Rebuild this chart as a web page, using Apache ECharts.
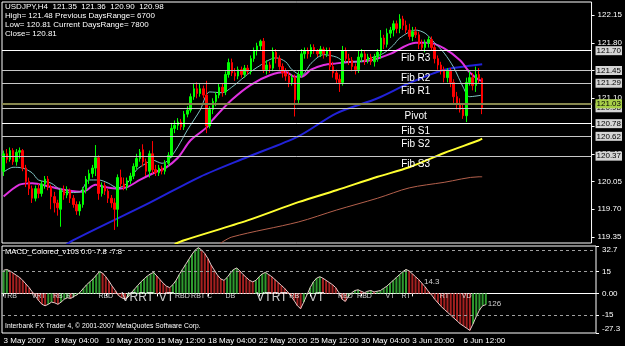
<!DOCTYPE html>
<html><head><meta charset="utf-8">
<script src="https://cdn.jsdelivr.net/npm/echarts@6/dist/echarts.min.js"></script>
<style>html,body{margin:0;padding:0;background:#000;}#c{width:625px;height:346px;}</style>
</head><body><div id="c"></div>
<script>
// ---------- data ----------
const slotCount = 186; // 152 bars + empty shift area on the right
const dateLabels = ['3 May 2007','8 May 04:00','10 May 20:00','15 May 12:00','18 May 04:00','22 May 20:00','25 May 12:00','30 May 04:00','3 Jun 20:00','6 Jun 12:00'];
const priceTicks = [119.35,119.70,120.05,120.40,120.75,121.10,121.45,121.80,122.15];
const macdTicks = [-27.3,-15,0,15,32.7];
const macdLevels = [30,15,-15];
// [open, close, low, high]
const candles = [
[120.18,120.40,120.12,120.44],[120.40,120.33,120.28,120.46],[120.33,120.44,120.30,120.48],[120.44,120.30,120.26,120.47],
[120.30,120.42,120.25,120.46],[120.42,120.44,120.34,120.48],[120.44,120.22,120.18,120.46],[120.22,120.05,119.98,120.26],
[120.05,119.96,119.88,120.10],[119.96,119.84,119.78,120.00],[119.84,119.96,119.80,120.00],[119.96,119.90,119.84,120.02],
[119.90,120.02,119.86,120.06],[120.02,120.08,119.96,120.12],[120.08,119.98,119.94,120.12],[119.98,119.86,119.70,120.01],
[119.86,119.78,119.66,119.92],[119.78,119.72,119.62,119.82],[119.70,119.94,119.48,119.97],[119.94,119.88,119.82,120.00],
[119.88,119.94,119.84,119.99],[119.94,119.84,119.78,119.96],[119.84,119.76,119.72,119.88],[119.76,119.68,119.63,119.80],
[119.68,119.76,119.62,119.80],[119.76,119.95,119.72,119.98],[119.95,120.08,119.90,120.12],[120.08,120.15,120.02,120.20],
[120.15,120.22,120.10,120.26],[120.22,120.35,120.12,120.51],[120.35,119.90,119.82,120.38],[119.90,120.00,119.86,120.04],
[120.00,119.93,119.88,120.04],[119.93,119.84,119.78,119.96],[119.84,119.78,119.72,119.88],[119.78,119.70,119.44,119.84],
[119.70,120.10,119.48,120.14],[120.10,120.02,119.98,120.20],[120.02,119.98,119.94,120.10],[119.98,120.06,119.94,120.10],
[120.06,120.12,120.02,120.16],[120.12,120.24,120.08,120.28],[120.24,120.34,120.20,120.40],[120.34,120.42,120.30,120.46],
[120.45,120.30,120.24,120.52],[120.30,120.18,120.12,120.34],[120.18,120.40,120.10,120.44],[120.40,120.20,120.15,120.56],
[120.20,120.16,120.12,120.26],[120.16,120.22,120.12,120.26],[120.22,120.18,120.14,120.25],[120.18,120.28,120.14,120.32],
[120.28,120.38,120.24,120.42],[120.38,120.72,120.35,120.79],[120.72,120.76,120.66,120.82],[120.76,120.80,120.70,120.85],
[120.80,120.74,120.70,120.84],[120.74,120.90,120.70,120.94],[120.90,120.95,120.86,121.00],[120.95,121.12,120.92,121.16],
[121.12,121.22,121.08,121.28],[121.22,121.16,121.10,121.30],[121.16,121.22,121.12,121.28],[121.22,121.14,121.10,121.26],
[121.14,120.75,120.66,121.32],[120.75,120.96,120.72,121.00],[120.96,121.06,120.90,121.10],[121.06,121.14,121.00,121.18],
[121.14,121.24,121.10,121.29],[121.24,121.18,121.12,121.28],[121.18,121.40,121.14,121.44],[121.40,121.55,121.36,121.60],
[121.55,121.42,121.38,121.60],[121.42,121.38,121.32,121.48],[121.38,121.46,121.34,121.50],[121.46,121.40,121.36,121.50],
[121.40,121.48,121.36,121.52],[121.48,121.44,121.40,121.52],[121.44,121.60,121.40,121.64],[121.60,121.70,121.56,121.74],
[121.70,121.76,121.64,121.80],[121.76,121.82,121.70,121.84],[121.82,121.46,121.42,121.86],[121.46,121.52,121.40,121.58],
[121.52,121.48,121.42,121.56],[121.48,121.68,121.44,121.74],[121.68,121.60,121.54,121.72],[121.60,121.50,121.46,121.64],
[121.50,121.42,121.36,121.54],[121.42,121.38,121.32,121.48],[121.38,121.30,121.24,121.44],[121.30,121.36,121.26,121.40],
[121.36,121.08,120.87,121.40],[121.08,121.40,121.02,121.44],[121.40,121.66,121.36,121.72],[121.66,121.70,121.60,121.74],
[121.70,121.66,121.60,121.74],[121.66,121.74,121.62,121.78],[121.74,121.70,121.66,121.78],[121.70,121.66,121.62,121.72],
[121.66,121.72,121.62,121.76],[121.72,121.66,121.60,121.75],[121.66,121.70,121.62,121.74],[121.70,121.50,121.45,121.74],
[121.50,121.42,121.36,121.56],[121.42,121.34,121.28,121.46],[121.34,121.30,121.18,121.40],[121.30,121.70,121.26,121.76],
[121.70,121.60,121.56,121.74],[121.60,121.58,121.52,121.66],[121.58,121.50,121.44,121.62],[121.50,121.46,121.40,121.54],
[121.46,121.62,121.42,121.70],[121.62,121.66,121.56,121.72],[121.66,121.58,121.52,121.70],[121.58,121.62,121.54,121.66],
[121.62,121.56,121.52,121.66],[121.56,121.62,121.50,121.66],[121.62,121.68,121.56,121.72],[121.68,121.86,121.60,121.96],
[121.86,121.78,121.72,121.90],[121.78,121.92,121.74,121.98],[121.92,121.96,121.86,122.00],[121.96,122.04,121.88,122.08],
[122.04,121.98,121.92,122.08],[121.98,122.10,121.92,122.16],[122.10,122.02,121.96,122.14],[122.02,121.96,121.92,122.08],
[121.96,121.88,121.84,122.04],[121.88,121.94,121.82,122.00],[121.94,121.90,121.86,122.00],[121.90,121.78,121.72,121.94],
[121.78,121.74,121.70,121.84],[121.74,121.80,121.68,121.84],[121.80,121.84,121.74,121.88],[121.84,121.74,121.70,121.88],
[121.74,121.60,121.54,121.78],[121.60,121.52,121.46,121.64],[121.52,121.46,121.40,121.56],[121.46,121.36,121.30,121.50],
[121.36,121.44,121.30,121.48],[121.44,121.30,121.24,121.48],[121.30,121.12,121.04,121.34],[121.12,121.02,120.96,121.18],
[121.02,120.96,120.92,121.10],[120.96,120.88,120.84,121.04],[120.88,121.30,120.80,121.36],[121.30,121.36,121.26,121.44],
[121.36,121.26,121.20,121.42],[121.26,121.40,121.18,121.50],[121.40,121.35,121.28,121.48],[121.35,120.98,120.90,121.36]
];
// moving averages: [bar index, price]
const maFast = [[0,120.17],[3,120.23],[6,120.22],[9,120.16],[11,120.07],[15,120.03],[18,119.94],[20,119.91],[24,119.92],[27,120.07],[30,120.07],[33,120.03],[36,119.97],[39,120.03],[42,120.20],[45,120.28],[47,120.32],[50,120.28],[52,120.32],[55,120.49],[58,120.70],[62,120.95],[65,121.18],[69,121.17],[72,121.24],[76,121.37],[80,121.49],[86,121.61],[89,121.56],[91,121.46],[94,121.39],[97,121.54],[101,121.65],[105,121.62],[108,121.56],[112,121.56],[116,121.61],[120,121.67],[123,121.77],[125,121.86],[130,121.96],[133,121.92],[136,121.80],[139,121.67],[142,121.49],[145,121.24],[147,121.12],[151,121.14]];
const maMid = [[0,119.86],[5,120.01],[9,120.03],[15,119.98],[20,119.94],[25,119.92],[29,120.01],[32,119.98],[36,119.96],[39,119.98],[43,120.07],[48,120.17],[51,120.22],[55,120.35],[59,120.57],[64,120.73],[66,120.83],[72,121.08],[78,121.27],[84,121.39],[89,121.43],[92,121.37],[94,121.37],[97,121.46],[101,121.52],[105,121.54],[110,121.56],[116,121.58],[122,121.66],[130,121.80],[134,121.80],[139,121.73],[144,121.58],[147,121.43],[150,121.33],[151,121.32]];
const maBlue = [[18,119.20],[22,119.31],[46,119.78],[62,120.11],[77,120.36],[93,120.62],[105,120.91],[118,121.10],[128,121.29],[139,121.46],[149,121.52],[151,121.53]];
const maYellow = [[54,119.26],[57,119.31],[77,119.56],[93,119.79],[105,119.94],[118,120.11],[128,120.23],[139,120.41],[150,120.57],[151,120.59]];
const maBrown = [[68,119.26],[72,119.35],[93,119.54],[105,119.69],[118,119.84],[128,119.97],[139,120.04],[150,120.11],[151,120.11]];
// fib pivot levels
const fibNames = ['Fib R3','Fib R2','Fib R1','Pivot','Fib S1','Fib S2','Fib S3'];
const fibValues = [121.70,121.45,121.29,120.98,120.78,120.62,120.37];
const fibLabelBar = 130;
const bidValue = 121.03;
// MACD histogram values
const macd = [16.0,16.5,15.5,14.0,12.5,11.0,9.0,6.5,4.0,1.0,-2.0,-5.0,-7.5,-8.5,-7.5,-6.0,-6.5,-7.5,-6.0,-4.0,
-3.0,-3.5,-2.0,-1.0,1.0,3.5,6.0,8.0,10.0,12.5,15.0,14.0,11.5,8.5,5.0,2.0,-1.5,-3.0,-4.0,-2.5,
0.5,3.0,5.5,8.0,10.0,12.0,13.5,14.5,12.0,9.5,7.0,5.0,4.0,6.0,9.0,13.0,16.5,20.0,23.5,27.0,
30.0,31.5,30.0,27.5,24.0,19.5,16.0,12.5,10.0,9.0,11.0,14.0,16.5,17.5,15.5,13.0,11.0,9.0,8.0,9.0,
11.5,13.5,14.5,13.0,11.5,9.5,7.5,5.5,3.5,1.0,-2.0,-5.0,-8.5,-10.5,-6.0,-1.0,4.0,8.0,10.5,11.5,
10.5,9.0,7.5,6.0,4.0,0.5,-4.0,-5.5,-2.0,0.5,2.0,2.5,1.5,0.5,1.5,2.0,1.0,1.5,2.0,3.5,
5.0,7.0,9.0,11.0,13.0,15.0,16.5,15.5,13.5,11.5,9.5,7.0,4.5,1.5,-1.0,-4.0,-6.5,-9.0,-11.0,-13.0,
-15.0,-17.0,-19.0,-21.0,-22.5,-24.0,-25.5,-21.0,-16.0,-11.5,-8.5,-7.8];
const macdTagText = ['TRB','VRT','RB','RT','RBD','VRRT','VT','RBD','RBT C','DB','VTRT','RB','VT','RBD','RBD','VT','RT','RT','VD'];
const macdTagBar = [2,11,17,21,32,42,51,56,62,71,84,91,98,107,113,121,126,138,145];
const macdNotes = [['14.3',131,8],['126',151,-7]];
const headerLines = ['USDJPY,H4  121.35  121.36  120.90  120.98','High= 121.48 Previous DaysRange= 6700','Low= 120.81 Current DaysRange= 7800','Close= 120.81'];
const macdTitle = 'MACD_Colored_v103 0.0 -7.8 -7.8';
const footer = 'Interbank FX Trader 4, \u00a9 2001-2007 MetaQuotes Software Corp.';

// ---------- styles ----------
const FONT = '"Liberation Sans", Arial, sans-serif';
const bigTagBars = [42,51,84,98];
const fibLineColors = ['#ffffff','#c8c8c8','#c8c8c8','#c8c8c8','#ffffff','#c8c8c8','#c8c8c8'];

const cats = Array.from({length: slotCount}, (_, i) => String(i));
const chart = echarts.init(document.getElementById('c'), null, {renderer: 'canvas'});

const fibMarkLines = fibValues.map((v, i) => ({
  yAxis: v,
  lineStyle: {color: fibLineColors[i], width: 1, type: 'solid'},
  label: {show: true, position: 'end', distance: 4, formatter: v.toFixed(2), color: '#000', backgroundColor: '#d4d4d4', padding: [1, 1, 0, 1], fontSize: 8, fontFamily: FONT}
}));
fibMarkLines.push({
  yAxis: bidValue,
  lineStyle: {color: '#86864e', width: 2, type: 'solid'},
  label: {show: true, position: 'end', distance: 4, formatter: bidValue.toFixed(2), color: '#000', backgroundColor: '#a8d048', padding: [1, 1, 0, 1], fontSize: 8, fontFamily: FONT}
});

const macdColored = macd.map((v, i) => ({
  value: v,
  itemStyle: {color: (i === 0 || v >= macd[i - 1]) ? '#2f9a2f' : '#a52020'}
}));

const smallTags = [], largeTags = [];
macdTagText.forEach((t, i) => {
  const b = macdTagBar[i];
  if (bigTagBars.includes(b)) largeTags.push({value: [b, -3], name: t});
  else smallTags.push({value: [b, -2], name: t});
});

function lineSeries(data, color, width, smooth) {
  return {type: 'line', xAxisIndex: 0, yAxisIndex: 0, data: data, showSymbol: false, symbol: 'none',
    smooth: smooth, lineStyle: {color: color, width: width}, silent: true, z: 3, clip: true};
}

const option = {
  backgroundColor: '#000',
  animation: false,
  textStyle: {fontFamily: FONT},
  grid: [
    {left: 2, top: 2, width: 594, height: 241, show: true, borderColor: '#ffffff', borderWidth: 1},
    {left: 2, top: 246, width: 594, height: 87, show: true, borderColor: '#ffffff', borderWidth: 1}
  ],
  xAxis: [
    {type: 'category', gridIndex: 0, data: cats, boundaryGap: true, axisLine: {show: false}, axisTick: {show: false}, axisLabel: {show: false}, splitLine: {show: false}},
    {type: 'category', gridIndex: 1, data: cats, boundaryGap: true,
      axisLine: {show: true, lineStyle: {color: '#ffffff'}},
      axisTick: {show: true, alignWithLabel: true, interval: (i) => i % 16 === 0 && i <= 144, length: 3, lineStyle: {color: '#ffffff'}},
      axisLabel: {show: true, interval: (i) => i % 16 === 0 && i <= 144, formatter: (v) => dateLabels[Number(v) / 16] || '', color: '#ffffff', fontSize: 8, align: 'left', margin: 4, fontFamily: FONT},
      splitLine: {show: false}}
  ],
  yAxis: [
    {type: 'value', gridIndex: 0, position: 'right', min: 119.275, max: 122.314, scale: true,
      splitLine: {show: false}, axisLine: {show: false},
      axisTick: {show: true, length: 3, lineStyle: {color: '#ffffff'}, customValues: priceTicks},
      axisLabel: {show: true, color: '#ffffff', fontSize: 8, margin: 6, fontFamily: FONT, customValues: priceTicks, formatter: (v) => v.toFixed(2)}},
    {type: 'value', gridIndex: 1, position: 'right', min: -27.3, max: 32.7,
      splitLine: {show: false}, axisLine: {show: false},
      axisTick: {show: true, length: 3, lineStyle: {color: '#ffffff'}, customValues: macdTicks},
      axisLabel: {show: true, color: '#ffffff', fontSize: 8, margin: 6, fontFamily: FONT, customValues: macdTicks,
        formatter: (v) => v === 0 ? '0.00' : String(v), verticalAlignMaxLabel: 'top', verticalAlignMinLabel: 'bottom'}}
  ],
  series: [
    lineSeries(maBrown, '#b4604c', 1, 0.3),
    lineSeries(maYellow, '#ffff30', 2, 0.3),
    lineSeries(maBlue, '#2222d8', 2, 0.3),
    {type: 'candlestick', xAxisIndex: 0, yAxisIndex: 0, data: candles, barWidth: 2, z: 4,
      itemStyle: {color: '#00ff00', color0: '#ff0000', borderColor: '#00ff00', borderColor0: '#ff0000', borderWidth: 1},
      markLine: {silent: true, symbol: ['none', 'none'], animation: false, data: fibMarkLines},
      markPoint: {silent: true, symbol: 'rect', symbolSize: 1, itemStyle: {color: 'rgba(0,0,0,0)'},
        data: fibNames.map((n, i) => ({coord: [String(fibLabelBar), fibValues[i]], name: n,
          label: {show: true, formatter: n, color: '#ffffff', fontSize: 10, fontFamily: FONT, offset: [0, 8]}}))}
    },
    lineSeries(maMid, '#e030e0', 2, 0.3),
    lineSeries(maFast, '#80c4c4', 1, 0.3),
    {type: 'bar', xAxisIndex: 1, yAxisIndex: 1, data: macdColored, barWidth: 2, silent: true,
      markLine: {silent: true, symbol: ['none', 'none'], label: {show: false},
        lineStyle: {color: '#a0a0a0', type: [3, 3], width: 1},
        data: macdLevels.map(v => ({yAxis: v}))}},
    {type: 'line', xAxisIndex: 1, yAxisIndex: 1, data: macd, showSymbol: false, symbol: 'none', silent: true,
      lineStyle: {color: '#e8cccc', width: 1}, z: 3},
    {type: 'scatter', xAxisIndex: 1, yAxisIndex: 1, data: smallTags, symbolSize: 0, silent: true, z: 5,
      label: {show: true, position: 'inside', formatter: (p) => p.name, color: '#ffffff', fontSize: 7, fontFamily: FONT}},
    {type: 'scatter', xAxisIndex: 1, yAxisIndex: 1, data: largeTags, symbolSize: 0, silent: true, z: 5,
      label: {show: true, position: 'inside', formatter: (p) => p.name, color: '#ffffff', fontSize: 12, fontFamily: FONT}},
    {type: 'scatter', xAxisIndex: 1, yAxisIndex: 1, data: macdNotes.map(n => ({value: [n[1], n[2]], name: n[0]})), symbolSize: 0, silent: true, z: 5,
      label: {show: true, position: 'right', distance: 2, formatter: (p) => p.name, color: '#ffffff', fontSize: 8, fontFamily: FONT}}
  ],
  graphic: [
    ...headerLines.map((t, i) => ({type: 'text', x: 5, y: 3 + i * 9, z: 100, silent: true,
      style: {text: t, fill: '#ffffff', font: '8px ' + FONT, textVerticalAlign: 'top'}})),
    {type: 'text', x: 5, y: 248, scaleX: 0.95, z: 100, silent: true, style: {text: macdTitle, fill: '#ffffff', font: '8px ' + FONT, textVerticalAlign: 'top'}},
    {type: 'text', x: 5, y: 322, scaleX: 0.85, z: 100, silent: true, style: {text: footer, fill: '#ffffff', font: '8px ' + FONT, textVerticalAlign: 'top'}}
  ]
};
chart.setOption(option);
</script>
</body></html>
